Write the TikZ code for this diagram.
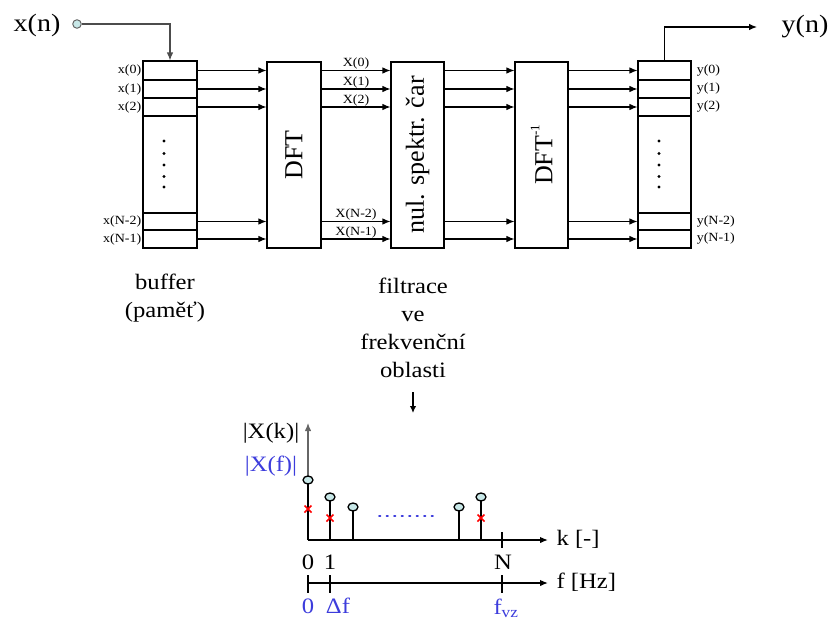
\documentclass[tikz,border=0pt]{standalone}
\usepackage{fontspec}
\setmainfont{Liberation Serif}[FakeStretch=1.12]
\newfontfamily\rotfont{Liberation Serif}
\usetikzlibrary{arrows.meta,shapes.geometric}
\definecolor{stemfill}{RGB}{200,232,232}
\definecolor{lblue}{RGB}{60,60,220}
\begin{document}
\begin{tikzpicture}[x=1pt,y=-1pt,
  ar/.style={-{Latex[length=8pt,width=6.5pt]}, line width=1.1pt},
  cell/.style={draw, line width=1.1pt, minimum width=54pt, inner sep=0pt},
  blk/.style={draw, line width=1.1pt, minimum width=54pt, minimum height=186pt, inner sep=0pt},
  small/.style={font=\fontsize{12.5}{13}\selectfont, inner sep=1pt},
  big/.style={font=\fontsize{25}{28}\selectfont},
  mid/.style={font=\fontsize{22}{26}\selectfont},
  rot/.style={rotate=90, font=\rotfont\fontsize{26}{28}\selectfont},
  dotm/.style={circle, fill, inner sep=0pt, minimum size=3.3pt},
  stemc/.style={ellipse, draw, fill=stemfill, line width=1.3pt, minimum width=10pt, minimum height=8pt, inner sep=0pt},
  stem/.style={line width=2.6pt},
  rx/.style={red, line width=1.5pt},
]
\useasboundingbox (0,0) rectangle (830,621);

% ---------- input buffer ----------
\node[cell, minimum height=19pt] (a0) at (170,70.5) {};
\node[cell, minimum height=18pt] (a1) at (170,89) {};
\node[cell, minimum height=18pt] (a2) at (170,107) {};
\node[cell, minimum height=97pt] (am) at (170,164.5) {};
\node[cell, minimum height=17pt] (a3) at (170,221.5) {};
\node[cell, minimum height=18pt] (a4) at (170,239) {};
\foreach \yy in {141,153.5,165,176.5,187} \node[dotm] at (164,\yy) {};
\node[small, anchor=east] (la0) at (a0.west) {x(0)};
\node[small, anchor=east] (la1) at (a1.west) {x(1)};
\node[small, anchor=east] (la2) at (a2.west) {x(2)};
\node[small, anchor=east] (la3) at (a3.west) {x(N-2)};
\node[small, anchor=east] (la4) at (a4.west) {x(N-1)};

% input
\node[big] (xn) at (37,25) {x(n)};
\node[circle, draw=black!60, fill=stemfill, line width=1pt, minimum size=8.5pt, inner sep=0pt] (xin) at (77,24) {};
\draw[ar, black!70] (xin.east) -| (a0.north);

% ---------- blocks ----------
\node[blk] (dft) at (294,155) {};
\node[rot] at (dft.center) {DFT};
\node[blk, minimum width=53pt] (nul) at (417.5,155) {};
\node[rot] at (nul.center) {nul. spektr. čar};
\node[blk, minimum width=53pt] (idft) at (541.5,155) {};
\node[rot] at (idft.center) {DFT\raisebox{0.5em}{\fontsize{13}{13}\selectfont -1}};

% ---------- output buffer ----------
\node[cell, minimum width=53pt, minimum height=19pt] (b0) at (664.5,70.5) {};
\node[cell, minimum width=53pt, minimum height=18pt] (b1) at (664.5,89) {};
\node[cell, minimum width=53pt, minimum height=18pt] (b2) at (664.5,107) {};
\node[cell, minimum width=53pt, minimum height=97pt] (bm) at (664.5,164.5) {};
\node[cell, minimum width=53pt, minimum height=17pt] (b3) at (664.5,221.5) {};
\node[cell, minimum width=53pt, minimum height=18pt] (b4) at (664.5,239) {};
\foreach \yy in {141,153.5,165,176.5,187} \node[dotm] at (659,\yy) {};
\node[small, anchor=west] (lb0) at ([xshift=4pt]b0.east) {y(0)};
\node[small, anchor=west] (lb1) at ([xshift=4pt]b1.east) {y(1)};
\node[small, anchor=west] (lb2) at ([xshift=4pt]b2.east) {y(2)};
\node[small, anchor=west] (lb3) at ([xshift=4pt]b3.east) {y(N-2)};
\node[small, anchor=west] (lb4) at ([xshift=4pt]b4.east) {y(N-1)};

% output
\coordinate (yo) at (757,27);
\draw[ar] (b0.north) |- (yo);
\node[big] (yn) at (805,27) {y(n)};

% ---------- arrows between stages ----------
\foreach \c in {a0,a1,a2,a3,a4} \draw[ar] (\c.east) -- (\c.east -| dft.west);
\foreach \c/\t in {a0/X(0),a1/X(1),a2/X(2),a3/X(N-2),a4/X(N-1)}
  \draw[ar] (\c.east -| dft.east) -- node[small, above, inner sep=0.5pt] {\t} (\c.east -| nul.west);
\foreach \c in {a0,a1,a2,a3,a4} \draw[ar] (\c.east -| nul.east) -- (\c.east -| idft.west);
\foreach \c in {b0,b1,b2,b3,b4} \draw[ar] (\c.west -| idft.east) -- (\c.west);

% ---------- captions ----------
\node[mid, align=center] (buf) at (165,298) {buffer\\[2pt](paměť)};
\node[mid, align=center] (filt) at (413,328) {filtrace\\[2pt]ve\\[2pt]frekvenční\\[2pt]oblasti};
\coordinate (fa) at (413,392);
\coordinate (fb) at (413,413);
\draw[-{Latex[length=7pt,width=6.5pt]}, line width=1.4pt] (fa) -- (fb);

% ---------- spectrum graph ----------
\coordinate (O) at (308,540);
\coordinate (kend) at (548,540);
\coordinate (ytop) at (308,423);
\coordinate (fO) at (308,583);
\coordinate (fend) at (548,583);
\draw[-{Latex[length=8pt,width=6.5pt]}, line width=1.2pt, black!60] (O) -- (ytop);
\draw[-{Latex[length=8pt,width=6.5pt]}, line width=1.4pt] (O) -- (kend);
\draw[-{Latex[length=8pt,width=6.5pt]}, line width=1.4pt] (fO) -- (fend);
% ticks
\draw[line width=1.4pt] (502,532) -- (502,548);
\draw[line width=1.4pt] (308,575) -- (308,593);
\draw[line width=1.4pt] (330,575) -- (330,593);
\draw[line width=1.4pt] (502,575) -- (502,593);
% stems
\foreach \xx/\yy [count=\i] in {308/480,330/497,353/507,459/507,481/497}{
  \draw[stem] (\xx,540) -- (\xx,\yy);
  \node[stemc] (s\i) at (\xx,\yy) {};
}
% red crosses
\foreach \xx/\yy in {308/509,330/518,481/518}{
  \draw[rx] (\xx-3.5,\yy-3.5) -- (\xx+3.5,\yy+3.5) (\xx-3.5,\yy+3.5) -- (\xx+3.5,\yy-3.5);
}
\draw[lblue, line width=1.6pt, dash pattern=on 1.5pt off 6pt, line cap=round] (379,516) -- (437,516);
% labels
\node[mid] (lxk) at (271,433) {|X(k)|};
\node[mid, text=lblue] (lxf) at (271,466) {|X(f)|};
\node[mid, anchor=west] (lk) at (553,539) {k [-]};
\node[mid, anchor=west] (lf) at (553,582) {f [Hz]};
\node[mid] (t0) at (308,562) {0};
\node[mid] (t1) at (330,562) {1};
\node[mid] (tN) at (503,562) {N};
\node[mid, text=lblue] (f0) at (308,606) {0};
\node[mid, text=lblue] (fdf) at (338,606) {Δf};
\node[mid, text=lblue] (fvz) at (506,608) {f\textsubscript{vz}};
\end{tikzpicture}
\end{document}
